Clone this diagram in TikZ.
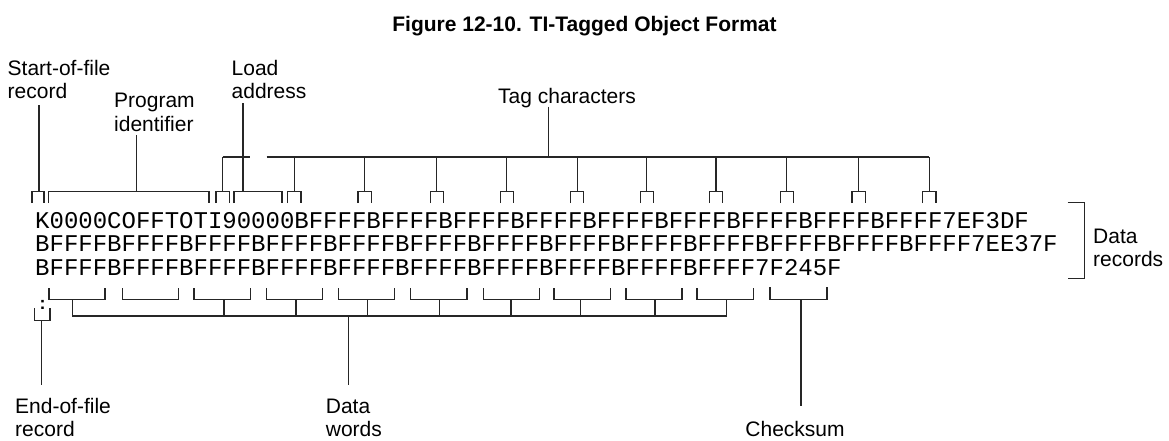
\documentclass[tikz,border=0pt]{standalone}
\usepackage{fontspec}
\setmainfont{Liberation Sans}
\newfontfamily\monofont{Liberation Mono}
\begin{document}
\begin{tikzpicture}[x=1pt,y=-1pt,
  lbl/.style={anchor=base west,inner sep=0pt,font=\fontsize{21}{23}\selectfont},
  ttl/.style={anchor=base,inner sep=0pt,font=\fontsize{21}{23}\selectfont\bfseries},
  code/.style={anchor=base west,inner sep=0pt,font=\monofont\fontsize{24}{24}\selectfont},
  ln/.style={line width=1.2pt,draw=black!85,line cap=butt,line join=miter}]
\useasboundingbox (0,0) rectangle (1169,440);

% title
\node[ttl] (title) at (584.5,31.5) {Figure 12-10. TI-Tagged Object Format};

% code lines
\node[code] (l1) at (35,228.3) {K0000COFFTOTI90000BFFFFBFFFFBFFFFBFFFFBFFFFBFFFFBFFFFBFFFFBFFFF7EF3DF};
\node[code] (l2) at (35,251.7) {BFFFFBFFFFBFFFFBFFFFBFFFFBFFFFBFFFFBFFFFBFFFFBFFFFBFFFFBFFFFBFFFF7EE37F};
\node[code] (l3) at (35,275.2) {BFFFFBFFFFBFFFFBFFFFBFFFFBFFFFBFFFFBFFFFBFFFFBFFFF7F245F};
\node[anchor=base,inner sep=0pt,font=\fontsize{18}{18}\selectfont\bfseries] (eof) at (42.5,309.8) {:};

% labels
\node[lbl] (sof1) at (7.5,75) {Start-of-file};
\node[lbl] (sof2) at (7.5,98.3) {record};
\node[lbl] (pid1) at (114,107.5) {Program};
\node[lbl] (pid2) at (114,131) {identifier};
\node[lbl] (la1) at (231.5,75) {Load};
\node[lbl] (la2) at (231.5,98.3) {address};
\node[lbl] (tag) at (498,103) {Tag characters};
\node[lbl] (dr1) at (1093,243.3) {Data};
\node[lbl] (dr2) at (1093,266) {records};
\node[lbl] (ef1) at (15,413.3) {End-of-file};
\node[lbl] (ef2) at (15,436.7) {record};
\node[lbl] (dw1) at (325.7,413.3) {Data};
\node[lbl] (dw2) at (325.7,436.7) {words};
\node[lbl,anchor=base] (cs) at (795,436.7) {Checksum};

% ---- top brackets ----
\draw[ln] (32,203) |- (44,191.7) -- (44,203);
\coordinate (bsof) at (39,191.7);
\draw[ln] (48.7,203) |- (209,191.7) -- (209,203);
\coordinate (bpid) at (136.7,191.7);
\draw[ln] (234,203) |- (282,191.7) -- (282,203);
\coordinate (bla) at (243,191.7);

% tag brackets
\foreach \x [count=\i] in {222.5,294.3,364.5,436.8,506.7,577.2,646.8,716,786.8,858.6,929.3}{
  \draw[ln] (\x-6.6,203) |- (\x+6.6,191.7) -- (\x+6.6,203);
  \coordinate (bt\i) at (\x,191.7);
  \coordinate (tt\i) at (\x,157);
  \draw[ln] (tt\i) -- (bt\i);
}
\coordinate (tagj) at (548.3,157);
\coordinate (gapl) at (250,157);
\coordinate (gapr) at (266.7,157);
\draw[ln] (tt1) -- (gapl);
\draw[ln] (gapr) -- (tt11);

% label stems (top)
\coordinate (sofs) at (39,105);
\coordinate (pids) at (136.7,135);
\coordinate (las) at (243,103);
\coordinate (tags) at (548.3,106.7);
\draw[ln] (sofs) -- (bsof);
\draw[ln] (pids) -- (bpid);
\draw[ln] (las) -- (bla);
\draw[ln] (tags) -- (tagj);

% ---- bottom brackets (data words) ----
\foreach \a/\b [count=\i] in {49/105,122.5/178.7,194/250.5,266.5/322.7,338.3/394.8,410.8/467,483.5/539.8,554/610.5,626/682,697/753.5}{
  \draw[ln] (\a,288) |- (\b,299.3) -- (\b,288);
}
\coordinate (dwl) at (72.7,316);
\coordinate (dwr) at (726.7,316);
\draw[ln] (72.7,299.3) -- (dwl) -- (dwr) -- (726.7,299.3);
\foreach \x in {224,296,367.7,439.3,511,580.7,655}{
  \draw[ln] (\x,299.3) -- (\x,316);
}
\coordinate (dwj) at (348.3,316);
\coordinate (dws) at (348.3,385);
\draw[ln] (dwj) -- (dws);
% checksum
\draw[ln] (770,287) |- (827,299.3) -- (827,287);
\coordinate (bcs) at (801,299.3);
\coordinate (css) at (801,406);
\draw[ln] (bcs) -- (css);
% end of file
\draw[ln] (34.3,308.3) |- (50,320.7) -- (50,308.3);
\coordinate (beof) at (41.7,320.7);
\coordinate (efs) at (41.7,385);
\draw[ln] (beof) -- (efs);

% data records bracket
\draw[ln] (1067.7,202.7) -- (1084.3,202.7) -- (1084.3,278.3) -- (1067.7,278.3);
\end{tikzpicture}
\end{document}
